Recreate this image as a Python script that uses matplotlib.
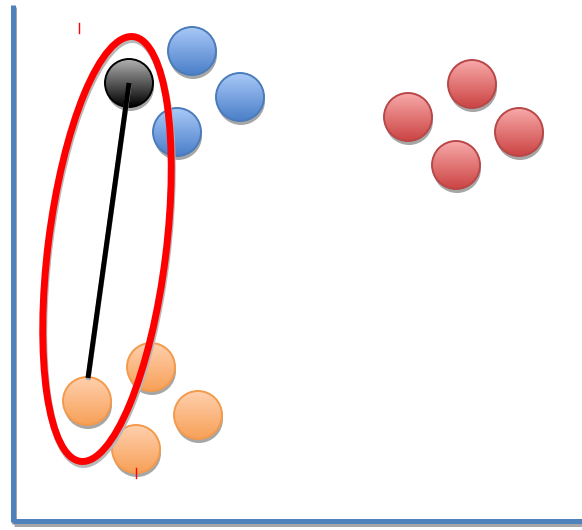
import numpy as np
import matplotlib
matplotlib.use("Agg")
import matplotlib.pyplot as plt
from matplotlib.patches import Circle, Ellipse
from matplotlib.colors import LinearSegmentedColormap
from matplotlib.transforms import Affine2D

# cluster centres (canvas units, y grows downward)
blue_x = [192, 240, 177]
blue_y = [51, 97, 132]
red_x = [472, 408, 519, 456]
red_y = [84, 117, 132, 165]
orange_x = [87, 151, 198, 136]
orange_y = [401, 367, 415, 449]
black_x = [129]
black_y = [83]
radius = 24

# link from black point to nearest orange point
link_x = [129, 88]
link_y = [83, 378]

# enclosing ellipse
ell_cx, ell_cy = 107, 249
ell_w, ell_h, ell_angle = 118, 428, 7.1

styles = {
    "blue": ("#a9c8f7", "#4a7fc9", "#4a7cbb"),
    "red": ("#f7a8a8", "#cc4444", "#b84848"),
    "orange": ("#ffd0ad", "#f7a058", "#f39a4c"),
    "black": ("#b0b0b0", "#000000", "#000000"),
}


def draw_circles(ax, xs, ys, key):
    top, bottom, edge = styles[key]
    cmap = LinearSegmentedColormap.from_list(key, [top, bottom])
    grad = np.linspace(0, 1, 64).reshape(-1, 1)
    for x, y in zip(xs, ys):
        ax.add_patch(Circle((x + 1, y + 4), radius, color="#a6a6a6", lw=0, zorder=2))
        clip = Circle((x, y), radius, facecolor="none", edgecolor=edge, lw=1.4, zorder=4)
        ax.add_patch(clip)
        im = ax.imshow(grad, cmap=cmap, extent=(x - radius, x + radius, y + radius, y - radius),
                       origin="upper", aspect="auto", zorder=3, interpolation="bilinear")
        im.set_clip_path(clip)


fig = plt.figure(figsize=(5.82, 5.30), dpi=100)
ax = fig.add_axes([0, 0, 1, 1])
ax.set_xlim(0, 582)
ax.set_ylim(530, 0)
ax.axis("off")

# axes drawn as thick blue lines with a shadow
ax.plot([14, 14], [7, 524], color="#a6a6a6", lw=3.6, solid_capstyle="butt", zorder=1)
ax.plot([14, 584], [524, 524], color="#a6a6a6", lw=3.6, solid_capstyle="butt", zorder=1)
ax.plot([12.5, 12.5], [5, 522], color="#4f81bd", lw=3.6, solid_capstyle="butt", zorder=2)
ax.plot([12.5, 582], [520.5, 520.5], color="#4f81bd", lw=3.6, solid_capstyle="butt", zorder=2)

draw_circles(ax, blue_x, blue_y, "blue")
draw_circles(ax, red_x, red_y, "red")
draw_circles(ax, orange_x, orange_y, "orange")

ax.plot(link_x, link_y, color="#a6a6a6", lw=3.6, zorder=4.5, solid_capstyle="butt",
        transform=Affine2D().translate(0, 2) + ax.transData)
ax.plot(link_x, link_y, color="black", lw=3.6, zorder=5, solid_capstyle="butt")
draw_circles(ax, black_x, black_y, "black")

ax.add_patch(Ellipse((ell_cx + 1, ell_cy + 3), ell_w, ell_h, angle=ell_angle,
                     fill=False, edgecolor="#b8b8b8", lw=5, zorder=6))
ax.add_patch(Ellipse((ell_cx, ell_cy), ell_w, ell_h, angle=ell_angle,
                     fill=False, edgecolor="#ff0000", lw=5, zorder=7))

# small red tick marks
ax.plot([78.5, 78.5], [23, 33], color="#ff0000", lw=1, zorder=8)
ax.plot([136, 136], [468, 478], color="#ff0000", lw=1, zorder=8)

fig.savefig("out.png", dpi=100)
